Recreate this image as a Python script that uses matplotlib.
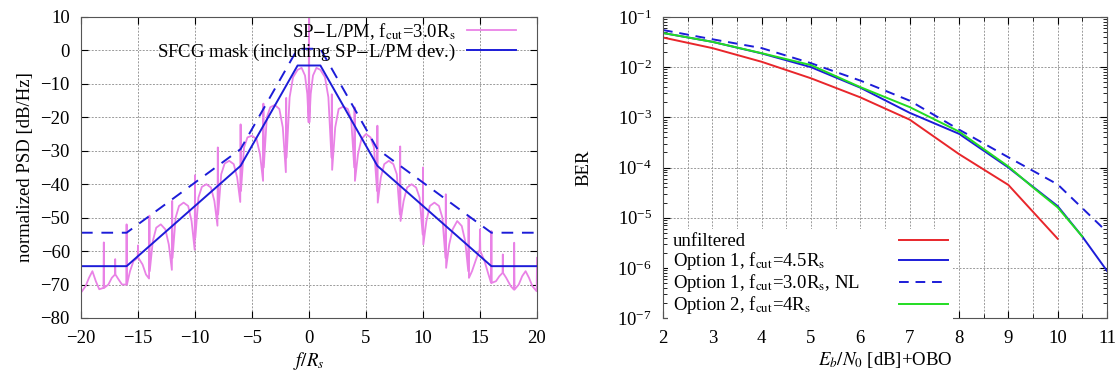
import matplotlib
matplotlib.use("Agg")
import matplotlib.pyplot as plt
from matplotlib.ticker import MultipleLocator, LogLocator, NullFormatter

plt.rcParams['font.family'] = ['Liberation Serif', 'DejaVu Serif']
plt.rcParams['mathtext.fontset'] = 'stix'
plt.rcParams['font.size'] = 13.5
plt.rcParams['axes.unicode_minus'] = True

# ---------------- PSD (left panel)
psd_f = [
    -20.0, -19.6, -19.3, -19.0, -18.7, -18.4, -18.03, -18.0, -17.97, -17.6, -17.3,
    -17.02, -17.0, -16.98, -16.7, -16.4, -16.03, -16.0, -15.97,
    -15.7, -15.4, -15.03, -15.0, -14.97, -14.6, -14.3, -14.03, -14.0, -13.97,
    -13.7, -13.4, -13.0, -12.6, -12.3, -12.03, -12.0, -11.97,
    -11.7, -11.4, -11.0, -10.6, -10.3, -10.03, -10.0, -9.97,
    -9.7, -9.4, -9.0, -8.6, -8.3, -8.03, -8.0, -7.97,
    -7.7, -7.4, -7.0, -6.6, -6.3, -6.03, -6.0, -5.97,
    -5.7, -5.4, -5.0, -4.6, -4.3, -4.03, -4.0, -3.97,
    -3.7, -3.4, -3.0, -2.6, -2.3, -2.03, -2.0, -1.97,
    -1.7, -1.4, -1.0, -0.65, -0.35, -0.15, -0.03, 0.0, 0.03,
    0.15, 0.35, 0.65, 1.0, 1.4, 1.7, 1.97, 2.0, 2.03,
    2.3, 2.6, 3.0, 3.4, 3.7, 3.97, 4.0, 4.03,
    4.3, 4.6, 5.0, 5.4, 5.7, 5.97, 6.0, 6.03,
    6.3, 6.6, 7.0, 7.4, 7.7, 7.97, 8.0, 8.03,
    8.3, 8.6, 9.0, 9.4, 9.7, 9.97, 10.0, 10.03,
    10.3, 10.6, 11.0, 11.4, 11.7, 11.97, 12.0, 12.03,
    12.3, 12.6, 13.0, 13.4, 13.7, 13.97, 14.0, 14.03,
    14.3, 14.6, 14.97, 15.0, 15.03, 15.4, 15.7, 15.97, 16.0, 16.03,
    16.4, 16.7, 16.98, 17.0, 17.02, 17.3, 17.7, 17.97, 18.0, 18.03,
    18.4, 18.7, 19.0, 19.3, 19.6, 19.97, 20.0,
]
psd_db = [
    -72.4, -70.5, -68.0, -66.0, -69.0, -71.4, -71.0, -57.4, -71.0, -70.0, -68.0,
    -67.0, -62.4, -67.0, -68.5, -70.0, -70.0, -52.0, -70.0,
    -66.0, -63.0, -62.0, -58.3, -62.0, -64.0, -67.0, -68.2, -49.4, -66.0,
    -57.0, -53.0, -52.0, -53.5, -58.0, -65.6, -45.0, -62.0,
    -50.0, -46.5, -45.5, -46.5, -51.0, -59.6, -37.3, -56.0,
    -44.0, -40.8, -40.0, -41.0, -45.0, -52.4, -29.0, -49.0,
    -37.0, -33.8, -33.0, -34.0, -38.0, -45.3, -22.1, -42.0,
    -29.0, -26.0, -25.5, -26.5, -31.0, -39.0, -15.9, -35.0,
    -20.0, -17.0, -16.3, -17.5, -23.0, -36.4, -14.2, -32.0,
    -14.0, -8.0, -5.8, -5.2, -7.5, -13.0, -21.5, 14.0, -21.5,
    -13.0, -7.5, -5.2, -5.8, -8.0, -14.0, -32.0, -13.1, -35.7,
    -23.0, -17.5, -16.8, -17.5, -20.5, -35.0, -17.0, -39.0,
    -31.0, -26.5, -25.0, -26.0, -29.0, -42.0, -22.5, -45.5,
    -38.0, -34.0, -33.0, -34.0, -37.0, -49.0, -28.7, -51.0,
    -45.0, -41.0, -40.0, -41.0, -44.0, -55.0, -35.0, -58.0,
    -51.0, -46.5, -45.5, -46.5, -50.0, -62.0, -43.0, -65.0,
    -58.0, -53.5, -51.0, -52.5, -57.0, -66.0, -49.5, -68.0,
    -66.0, -63.0, -59.5, -53.5, -60.0, -63.0, -66.5, -69.5, -54.0, -69.5,
    -69.0, -67.5, -66.5, -61.0, -66.5, -68.0, -70.5, -71.5, -57.5, -71.5,
    -70.0, -67.5, -66.0, -68.0, -70.5, -72.0, -62.0,
]

# SFCG mask corners
mask_f = [-20, -16, -6, -1, 1, 6, 16, 20]
mask_db = [-64.5, -64.5, -34.5, -4.5, -4.5, -34.5, -64.5, -64.5]
mask_nl_db = [-54.5, -54.5, -29.5, 0.5, 0.5, -29.5, -54.5, -54.5]

# ---------------- BER (right panel)
ebn0_red = [2, 3, 4, 5, 6, 7, 8, 9, 10]
ber_red = [3.9e-2, 2.4e-2, 1.28e-2, 6.0e-3, 2.5e-3, 9.0e-4, 1.85e-4, 4.5e-5, 3.8e-6]

ebn0_opt1 = [2, 3, 4, 5, 6, 7, 8, 9, 10, 10.5, 11]
ber_opt1 = [4.8e-2, 3.2e-2, 1.88e-2, 1.0e-2, 3.9e-3, 1.23e-3, 4.7e-4, 1.0e-4, 1.7e-5, 4.2e-6, 8.7e-7]

ebn0_nl = [2, 3, 4, 5, 6, 7, 8, 9, 10, 11]
ber_nl = [5.5e-2, 3.6e-2, 2.4e-2, 1.2e-2, 5.4e-3, 2.15e-3, 5.7e-4, 1.6e-4, 4.6e-5, 5.2e-6]

ebn0_opt2 = [2, 3, 4, 5, 6, 7, 8, 9, 9.5, 10, 10.5]
ber_opt2 = [4.8e-2, 3.2e-2, 1.9e-2, 1.1e-2, 4.0e-3, 1.6e-3, 5.2e-4, 1.05e-4, 4.0e-5, 1.6e-5, 4.2e-6]

violet = '#e982e6'
blue = '#1c1cd8'
red = '#e8262b'
green = '#22dd22'
dashed = (0, (6, 4.5))
grid_kw = dict(color='#9a9a9a', linestyle=(0, (2, 1.5)), linewidth=0.7)

fig = plt.figure(figsize=(11.2, 3.81), dpi=100)
ax1 = fig.add_axes([81 / 1120, 1 - 318 / 381, 456 / 1120, 301 / 381])
ax2 = fig.add_axes([663 / 1120, 1 - 318 / 381, 444 / 1120, 301 / 381])

# left panel
ax1.plot(psd_f, psd_db, color=violet, lw=1.3, label=r'SP$-$L/PM, f$_{\rm cut}$=3.0R$_{\rm s}$')
ax1.plot(mask_f, mask_db, color=blue, lw=1.4, label='SFCG mask (including SP$-$L/PM dev.)')
ax1.plot(mask_f, mask_nl_db, color=blue, lw=1.4, linestyle=dashed)
ax1.set_xlim(-20, 20)
ax1.set_ylim(-80, 10)
ax1.xaxis.set_major_locator(MultipleLocator(5))
ax1.yaxis.set_major_locator(MultipleLocator(10))
ax1.grid(True, **grid_kw)
ax1.set_xlabel(r'$f/R_s$', labelpad=2)
ax1.set_ylabel('normalized PSD [dB/Hz]', labelpad=5)
leg1 = ax1.legend(loc='upper right', bbox_to_anchor=(0.962, 1.0), frameon=False,
                  markerfirst=False, handlelength=2.6, handletextpad=0.6,
                  labelspacing=0.0, borderaxespad=0.0, borderpad=0.2)

# right panel
ax2.semilogy(ebn0_red, ber_red, color=red, lw=1.4, label='unfiltered')
ax2.semilogy(ebn0_opt1, ber_opt1, color=blue, lw=1.4, label=r'Option 1, f$_{\rm cut}$=4.5R$_{\rm s}$')
ax2.semilogy(ebn0_nl, ber_nl, color=blue, lw=1.4, linestyle=(0, (5, 3.5)),
             label=r'Option 1, f$_{\rm cut}$=3.0R$_{\rm s}$, NL')
ax2.semilogy(ebn0_opt2, ber_opt2, color=green, lw=1.4, label=r'Option 2, f$_{\rm cut}$=4R$_{\rm s}$')
ax2.set_xlim(2, 11)
ax2.set_ylim(1e-7, 1e-1)
ax2.xaxis.set_major_locator(MultipleLocator(1))
ax2.xaxis.set_minor_locator(MultipleLocator(0.5))
ax2.yaxis.set_major_locator(LogLocator(base=10, numticks=10))
ax2.yaxis.set_minor_locator(LogLocator(base=10, subs=range(2, 10), numticks=10))
ax2.yaxis.set_minor_formatter(NullFormatter())
ax2.grid(True, which='major', **grid_kw)
ax2.grid(True, which='minor', axis='x', **grid_kw)
ax2.set_xlabel(r'$E_b/N_0$ [dB]+OBO', labelpad=2)
ax2.set_ylabel('BER', labelpad=18)
leg2 = ax2.legend(loc='lower left', bbox_to_anchor=(0.012, -0.01), markerfirst=False,
                  frameon=True, fancybox=False, handlelength=2.6, handletextpad=2.1,
                  labelspacing=0.0, borderaxespad=0.0, borderpad=0.25)
leg2.get_frame().set_edgecolor('none')
leg2.get_frame().set_facecolor('white')
leg2.get_frame().set_alpha(1.0)

for ax in (ax1, ax2):
    ax.tick_params(which='both', direction='in', top=True, right=True, labelsize=13.5)
    ax.tick_params(axis='x', which='both', pad=8.5)
    ax.tick_params(axis='y', which='both', pad=8)
    ax.tick_params(which='major', length=5)
    ax.tick_params(which='minor', length=3)
    for s in ax.spines.values():
        s.set_color('#555555')
        s.set_linewidth(0.8)

# keep the right legend texts left-aligned with their samples stacked at the right
fig.canvas.draw()
r = fig.canvas.get_renderer()
widths = [t.get_window_extent(r).width for t in leg2.get_texts()]
wmax = max(widths)
p2px = r.points_to_pixels(1.0)
rows = leg2._legend_handle_box.get_children()[0].get_children()
for row, w in zip(rows, widths):
    row.sep = row.sep + (wmax - w) / p2px

fig.savefig('out.png', dpi=100)
